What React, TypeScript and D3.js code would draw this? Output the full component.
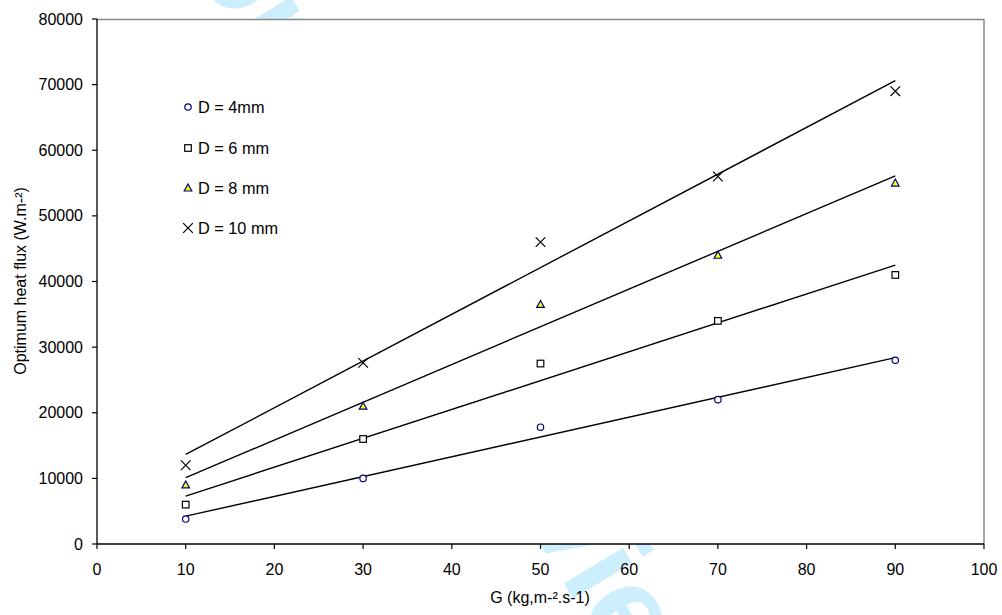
import React from "react";
import * as d3 from "d3";

const gValues = [10, 30, 50, 70, 90];
const seriesNames = ["D = 4mm", "D = 6 mm", "D = 8 mm", "D = 10 mm"];
const d4 = [3800, 10000, 17800, 22000, 28000];
const d6 = [6000, 16000, 27500, 34000, 41000];
const d8 = [9000, 21000, 36500, 44000, 55000];
const d10 = [12000, 27600, 46000, 56000, 69000];
const xTicks = [0, 10, 20, 30, 40, 50, 60, 70, 80, 90, 100];
const yTicks = [0, 10000, 20000, 30000, 40000, 50000, 60000, 70000, 80000];
const markerTypes = ["circle", "square", "triangle", "cross"];

const W = 1002;
const H = 615;
const left = 97;
const right = 984;
const top = 19;
const bottom = 544;
const FONT = "Liberation Sans, Arial, sans-serif";

function linReg(xs: number[], ys: number[]) {
  const mx = d3.mean(xs) as number;
  const my = d3.mean(ys) as number;
  let num = 0;
  let den = 0;
  xs.forEach((x, i) => {
    num += (x - mx) * (ys[i] - my);
    den += (x - mx) * (x - mx);
  });
  const slope = num / den;
  return { slope, intercept: my - slope * mx };
}

function Marker({ type, x, y }: { type: string; x: number; y: number }) {
  if (type === "circle")
    return <circle cx={x} cy={y} r={3.2} fill="#fff" stroke="#000080" strokeWidth={1.2} />;
  if (type === "square")
    return <rect x={x - 3.3} y={y - 3.3} width={6.6} height={6.6} fill="#fff" stroke="#000" strokeWidth={1.2} />;
  if (type === "triangle")
    return (
      <path
        d={`M${x},${y - 4} L${x + 3.8},${y + 3} L${x - 3.8},${y + 3} Z`}
        fill="#ffff00"
        stroke="#000080"
        strokeWidth={1.2}
      />
    );
  return (
    <path
      d={`M${x - 4.8},${y - 4.8} L${x + 4.8},${y + 4.8} M${x - 4.8},${y + 4.8} L${x + 4.8},${y - 4.8}`}
      stroke="#000"
      strokeWidth={1.2}
      fill="none"
    />
  );
}

export default function App() {
  const x = d3.scaleLinear().domain([0, 100]).range([left, right]);
  const y = d3.scaleLinear().domain([0, 80000]).range([bottom, top]);
  const series = [d4, d6, d8, d10];
  const line = d3
    .line<[number, number]>()
    .x((d) => x(d[0]))
    .y((d) => y(d[1]));
  const legendY = [107, 148, 188, 228];
  const xMin = d3.min(gValues) as number;
  const xMax = d3.max(gValues) as number;

  return (
    <svg
      width={W}
      height={H}
      style={{ position: "absolute", left: 0, top: 0, background: "#fff" }}
      fontFamily={FONT}
    >
      <rect x={0} y={0} width={W} height={H} fill="#fff" />
      <text
        x={0}
        y={0}
        transform="translate(436,304) rotate(59)"
        fontSize={130}
        fontWeight="bold"
        fill="#cdeefc"
        textAnchor="middle"
        dominantBaseline="middle"
      >
        For Peer Review
      </text>
      <rect x={left} y={top} width={right - left} height={bottom - top} fill="#fff" />
      <line x1={left} y1={top + 0.5} x2={right} y2={top + 0.5} stroke="#888" strokeWidth={1.5} />
      <line x1={right} y1={top} x2={right} y2={bottom} stroke="#888" strokeWidth={1.5} />
      <line x1={left} y1={top} x2={left} y2={bottom} stroke="#000" strokeWidth={1.3} />
      <line x1={left} y1={bottom} x2={right} y2={bottom} stroke="#000" strokeWidth={1.3} />
      {yTicks.map((t) => (
        <g key={"y" + t}>
          <line x1={left - 5} x2={left} y1={y(t)} y2={y(t)} stroke="#000" strokeWidth={1.2} />
          <text x={83} y={y(t)} dy="0.35em" textAnchor="end" fontSize={16} fill="#000">
            {t}
          </text>
        </g>
      ))}
      {xTicks.map((t) => (
        <g key={"x" + t}>
          <line x1={x(t)} x2={x(t)} y1={bottom} y2={bottom + 5} stroke="#000" strokeWidth={1.2} />
          <text x={x(t)} y={575} textAnchor="middle" fontSize={16} fill="#000">
            {t}
          </text>
        </g>
      ))}
      <text x={540} y={603} textAnchor="middle" fontSize={16} fill="#000">
        G (kg,m-².s-1)
      </text>
      <text
        transform="translate(25.5,281) rotate(-90)"
        textAnchor="middle"
        fontSize={16}
        fill="#000"
      >
        Optimum heat flux (W.m-²)
      </text>
      {series.map((vals, i) => {
        const { slope, intercept } = linReg(gValues, vals);
        const pts: [number, number][] = [
          [xMin, intercept + slope * xMin],
          [xMax, intercept + slope * xMax],
        ];
        return <path key={"l" + i} d={line(pts) as string} stroke="#000" strokeWidth={1.4} fill="none" />;
      })}
      {series.map((vals, i) =>
        vals.map((v, j) => <Marker key={`m${i}-${j}`} type={markerTypes[i]} x={x(gValues[j])} y={y(v)} />)
      )}
      {seriesNames.map((name, i) => (
        <g key={"lg" + i}>
          <Marker type={markerTypes[i]} x={188} y={legendY[i]} />
          <text x={198} y={legendY[i]} dy="0.35em" fontSize={16.3} fill="#000">
            {name}
          </text>
        </g>
      ))}
    </svg>
  );
}
